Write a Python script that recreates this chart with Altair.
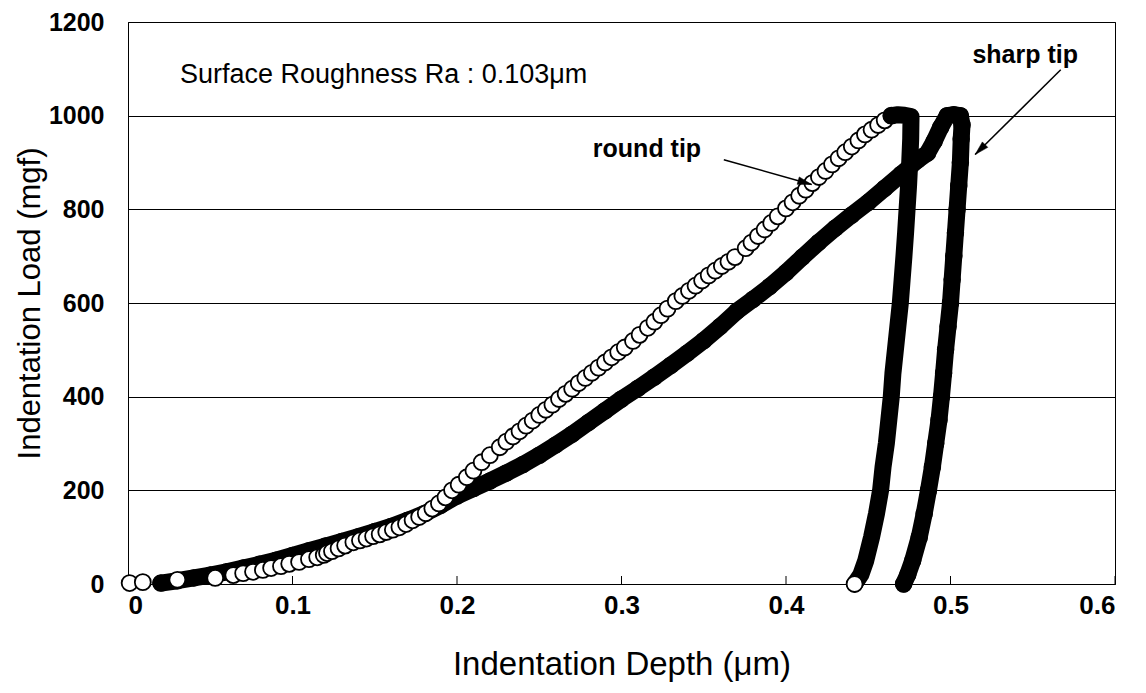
import altair as alt
import pandas as pd

# ---------------- data ----------------
# sharp tip: loading, hold and unloading, in measurement order
sharp_depth = [0.020, 0.030, 0.040, 0.050, 0.060, 0.070, 0.080, 0.090, 0.100, 0.110,
               0.120, 0.130, 0.140, 0.150, 0.160, 0.170, 0.180, 0.190, 0.200, 0.210,
               0.220, 0.230, 0.240, 0.250, 0.260, 0.270, 0.280, 0.290, 0.300, 0.310,
               0.320, 0.330, 0.340, 0.350, 0.360, 0.370, 0.380, 0.390, 0.400, 0.410,
               0.420, 0.430, 0.440, 0.450, 0.460, 0.470, 0.480, 0.486, 0.490, 0.494,
               0.498, 0.502, 0.506,
               0.507, 0.5065, 0.506, 0.505, 0.504, 0.503, 0.502, 0.501, 0.500, 0.4985,
               0.497, 0.4958, 0.4945, 0.493, 0.491, 0.489, 0.4866, 0.484, 0.481, 0.477,
               0.474, 0.4715]
sharp_load = [2, 7, 13, 19, 26, 34, 42, 51, 61, 71,
              81, 91, 101, 112, 123, 136, 150, 168, 188, 204,
              220, 237, 255, 275, 297, 320, 345, 370, 395, 418,
              442, 467, 493, 520, 550, 582, 608, 635, 665, 698,
              730, 760, 788, 815, 845, 875, 905, 920, 945, 975,
              1000, 1002, 1000,
              980, 950, 900, 850, 800, 750, 700, 650, 600, 550,
              500, 450, 400, 350, 300, 250, 200, 150, 100, 50,
              20, 0]

# round tip: loading part (open circles)
round_load_depth = [0.001, 0.009, 0.030, 0.053, 0.064, 0.070, 0.076, 0.082, 0.087, 0.093,
                    0.098, 0.104, 0.110, 0.115, 0.119, 0.121, 0.124, 0.128, 0.132, 0.137,
                    0.141, 0.145, 0.149, 0.153, 0.157, 0.161, 0.165, 0.169, 0.173, 0.177,
                    0.181, 0.185, 0.189, 0.193, 0.197, 0.201, 0.206, 0.210, 0.215, 0.220,
                    0.226, 0.230, 0.234, 0.238, 0.242, 0.246, 0.250, 0.254, 0.258, 0.262,
                    0.266, 0.270, 0.274, 0.278, 0.282, 0.286, 0.290, 0.294, 0.298, 0.302,
                    0.307, 0.311, 0.316, 0.320, 0.324, 0.328, 0.333, 0.337, 0.341, 0.345,
                    0.349, 0.353, 0.357, 0.361, 0.365, 0.369, 0.3755, 0.379, 0.383, 0.387,
                    0.391, 0.395, 0.400, 0.404, 0.408, 0.412, 0.416, 0.420, 0.424, 0.428,
                    0.432, 0.436, 0.440, 0.444, 0.448, 0.452, 0.456, 0.460, 0.464]
round_load_load = [2, 4, 9, 13, 19, 23, 26, 30, 34, 38,
                   43, 47, 53, 57, 62, 66, 70, 76, 82, 89,
                   93, 97, 102, 106, 111, 116, 121, 128, 136, 143,
                   151, 161, 172, 185, 200, 212, 228, 242, 260, 275,
                   292, 304, 315, 326, 338, 349, 361, 372, 383, 395,
                   406, 417, 429, 440, 451, 462, 473, 484, 495, 505,
                   519, 532, 547, 560, 574, 588, 604, 615, 626, 637,
                   648, 659, 669, 679, 688, 698, 717, 729, 743, 757,
                   771, 785, 802, 815, 829, 842, 856, 869, 882, 896,
                   909, 922, 934, 947, 960, 970, 980, 990, 1000]

# round tip: hold and unloading part (dense, appears as a solid band)
round_unload_depth = [0.464, 0.468, 0.472, 0.476, 0.4758, 0.4752, 0.4745, 0.4736, 0.4727,
                      0.4717, 0.4706, 0.4695, 0.468, 0.4665, 0.465, 0.464, 0.4625, 0.461,
                      0.459, 0.4575, 0.455, 0.452, 0.4485, 0.4455, 0.4417]
round_unload_load = [1000, 1002, 1001, 998, 950, 900, 850, 800, 750,
                     700, 650, 600, 550, 500, 450, 400, 350, 300,
                     250, 200, 150, 100, 50, 20, 0]

x_ticks = [0, 0.1, 0.2, 0.3, 0.4, 0.5, 0.6]
y_ticks = [0, 200, 400, 600, 800, 1000, 1200]

note_text = ["Surface Roughness Ra : 0.103\u03bcm"]
note_x = [0.0316]
note_y = [1087]

label_text = ["round tip", "sharp tip"]
label_x = [0.3155, 0.5454]
label_y = [928, 1130]

arrow_x = [0.3622, 0.567]
arrow_y = [906, 1098]
arrow_x2 = [0.4156, 0.515]
arrow_y2 = [853, 917]

# ---------------- styling ----------------
FONT = "Liberation Sans"
W, H = 987, 562
MARKER = 255
BAND = 17
arrow_angles = [106, 225]

sharp_df = pd.DataFrame({"i": range(len(sharp_depth)), "depth": sharp_depth, "load": sharp_load})
rload_df = pd.DataFrame({"i": range(len(round_load_depth)), "depth": round_load_depth, "load": round_load_load})
runload_df = pd.DataFrame({"i": range(len(round_unload_depth)), "depth": round_unload_depth, "load": round_unload_load})
rend_df = runload_df.iloc[[-1]]
tick_df = pd.DataFrame({"depth": x_ticks})
note_df = pd.DataFrame({"t": note_text, "depth": note_x, "load": note_y})
label_df = pd.DataFrame({"t": label_text, "depth": label_x, "load": label_y})
arrow_df = pd.DataFrame({"depth": arrow_x, "load": arrow_y, "depth2": arrow_x2, "load2": arrow_y2})

XS = alt.Scale(domain=[0, 0.6], nice=False, zero=False)
YS = alt.Scale(domain=[0, 1200], nice=False)

X = alt.X("depth:Q", scale=XS,
          axis=alt.Axis(values=x_ticks, format=".1~f", grid=False, ticks=False,
                        labelPadding=8, labelFontSize=26,
                        title="Indentation Depth (\u03bcm)", titleFontSize=33,
                        titleX=W / 2, titleY=80, titleBaseline="middle", titleAlign="center"))
Y = alt.Y("load:Q", scale=YS,
          axis=alt.Axis(values=y_ticks, format="d", grid=True, ticks=False, labelPadding=24,
                        labelFontSize=25,
                        title="Indentation Load (mgf)", titleFontSize=31, titleAngle=-90,
                        titleX=-98, titleY=H / 2, titleBaseline="middle", titleAlign="center"))

ticks = alt.Chart(tick_df).mark_rule(color="black", strokeWidth=1).encode(
    x=X, y=alt.value(H), y2=alt.value(H - 8))

sharp_line = alt.Chart(sharp_df).mark_line(
    color="black", strokeWidth=BAND, strokeCap="round", strokeJoin="round").encode(
    x=X, y=Y, order="i:Q")
sharp_pts = alt.Chart(sharp_df).mark_point(
    shape="circle", filled=True, fill="black", stroke="black", strokeWidth=1.5,
    size=MARKER, opacity=1).encode(x=X, y=Y)

round_pts = alt.Chart(rload_df).mark_point(
    shape="circle", filled=True, fill="white", stroke="black", strokeWidth=1.8,
    size=MARKER, opacity=1).encode(x=X, y=Y)
round_line = alt.Chart(runload_df).mark_line(
    color="black", strokeWidth=BAND, strokeCap="round", strokeJoin="round").encode(
    x=X, y=Y, order="i:Q")
round_end = alt.Chart(rend_df).mark_point(
    shape="circle", filled=True, fill="white", stroke="black", strokeWidth=1.8,
    size=MARKER, opacity=1).encode(x=X, y=Y)

arrows = alt.Chart(arrow_df).mark_rule(color="black", strokeWidth=1.5).encode(
    x=X, y=Y, x2="depth2:Q", y2="load2:Q")
heads = []
for k, ang in enumerate(arrow_angles):
    heads.append(
        alt.Chart(arrow_df.iloc[[k]]).mark_point(
            shape="M0,0L0.55,2L-0.55,2Z", filled=True, fill="black", stroke="black",
            strokeWidth=0.5, size=196, angle=ang, opacity=1).encode(
            x=alt.X("depth2:Q", scale=XS),
            y=alt.Y("load2:Q", scale=YS))
    )

note = alt.Chart(note_df).mark_text(
    font=FONT, fontSize=27, align="left", baseline="middle", color="black").encode(
    x=X, y=Y, text="t:N")
labels = alt.Chart(label_df).mark_text(
    font=FONT, fontSize=25, fontWeight="bold", align="center", baseline="middle",
    color="black").encode(x=X, y=Y, text="t:N")

chart = alt.layer(ticks, sharp_line, sharp_pts, round_pts, round_line, round_end,
                  arrows, *heads, note, labels).properties(
    width=W, height=H,
    autosize=alt.AutoSizeParams(type="none"),
    padding={"left": 120, "top": 14, "right": 23, "bottom": 101},
    background="white",
).configure_view(
    stroke="black", strokeWidth=1
).configure_axis(
    domainColor="black", domainWidth=1, gridColor="black", gridWidth=1, gridOpacity=1,
    labelFont=FONT, labelFontWeight="bold", labelColor="black",
    titleFont=FONT, titleFontWeight="normal", titleColor="black",
)

chart.save("out.html", embed_options={"renderer": "svg", "actions": False})
